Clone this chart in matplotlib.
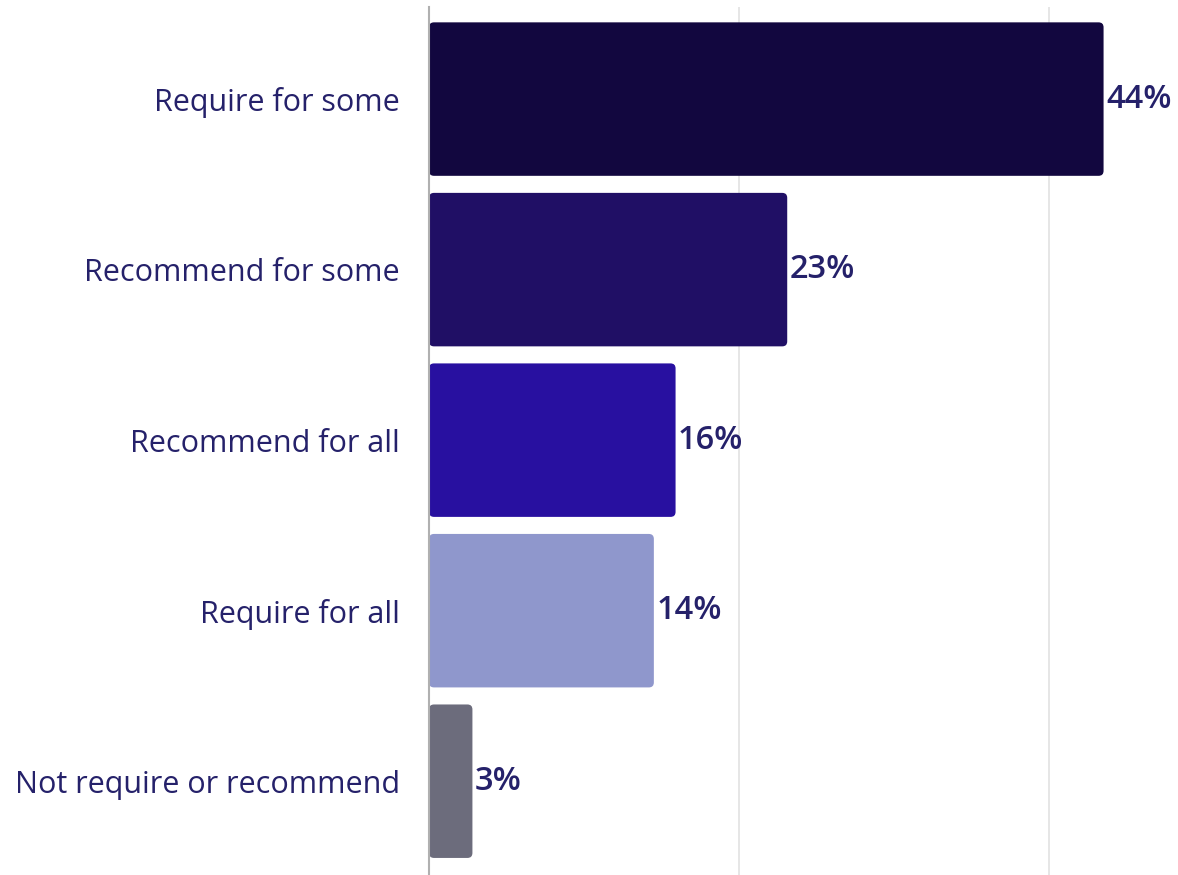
import matplotlib
matplotlib.use("Agg")
import matplotlib.pyplot as plt
from matplotlib.patches import FancyBboxPatch

categories = ["Require for some", "Recommend for some", "Recommend for all",
              "Require for all", "Not require or recommend"]
values = [43.5, 23.1, 15.9, 14.5, 2.8]
value_labels = ["44%", "23%", "16%", "14%", "3%"]
colors = ["#12073f", "#200f65", "#2810a0", "#8f97cc", "#6c6c7c"]

plt.rcParams['font.family'] = ['Open Sans', 'DejaVu Sans']
text_color = "#25216a"

fig = plt.figure(figsize=(11.78, 8.75), dpi=100)
ax = fig.add_axes([429/1178, 0, 1 - 429/1178, (875-7)/875])

ypos = list(range(len(categories)))
bars = ax.barh(ypos, values, height=0.9, color=colors, zorder=3)

xmax = 48.3
ax.set_xlim(0, xmax)
ax.set_ylim(4.55, -0.54)

# rounded bars
px_x = (1178 - 429) / xmax
px_y = (875 - 7) / (4.55 + 0.54)
for b, c in zip(bars, colors):
    x0, y0 = b.get_x(), b.get_y()
    w, h = b.get_width(), b.get_height()
    p = FancyBboxPatch((x0, y0), w, h,
                       boxstyle="round,pad=0,rounding_size=%f" % (5 / px_x),
                       mutation_aspect=px_x / px_y,
                       facecolor=c, edgecolor="none", zorder=3)
    ax.add_patch(p)
    b.set_visible(False)

for v, lab, y in zip(values, value_labels, ypos):
    ax.text(v + 0.15, y, lab, va="center", ha="left", fontsize=23.5,
            fontweight="semibold", color=text_color, zorder=4)

ax.set_yticks(ypos)
ax.set_yticklabels(categories, fontsize=22, color=text_color)
ax.tick_params(axis="y", length=0, pad=21)
ax.set_xticks([20, 40])
ax.tick_params(axis="x", length=0, labelbottom=False)
ax.grid(axis="x", color="#e2e2e2", linewidth=1.2, zorder=0)
for s in ["top", "right", "bottom"]:
    ax.spines[s].set_visible(False)
ax.spines["left"].set_color("#b0b0b0")
ax.spines["left"].set_linewidth(1.5)
ax.spines["left"].set_zorder(5)

fig.savefig("out.png", dpi=100)
